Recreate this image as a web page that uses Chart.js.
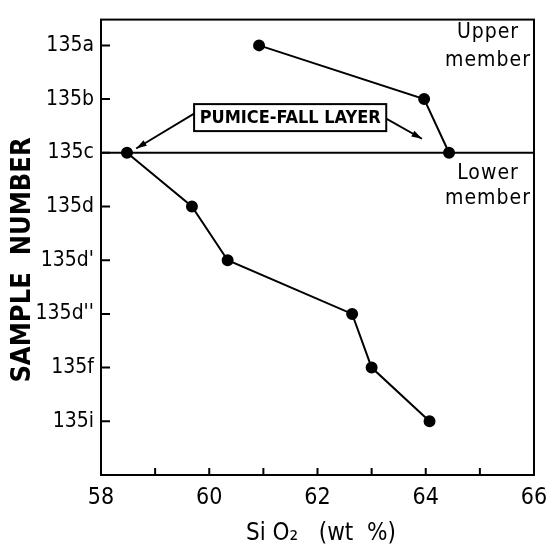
<!DOCTYPE html>
<html>
<head>
<meta charset="utf-8">
<script src="https://cdn.jsdelivr.net/npm/chart.js@4.4.1/dist/chart.umd.min.js"></script>
<style>
  html, body { margin: 0; padding: 0; background: #fff; }
</style>
</head>
<body>
<canvas id="chart" width="547" height="550"></canvas>
<script>
"use strict";

// sample order, top to bottom
const samples = ["135a", "135b", "135c", "135d", "135d'", "135d''", "135f", "135i"];

// upper member (above the pumice-fall layer)
const upperSamples = ["135a", "135b", "135c"];
const upperSiO2 = [60.92, 63.97, 64.43];

// lower member
const lowerSamples = ["135c", "135d", "135d'", "135d''", "135f", "135i"];
const lowerSiO2 = [58.48, 59.68, 60.34, 62.64, 63.0, 64.07];

const xTicks = [58, 60, 62, 64, 66];
const xMinorTicks = [59, 61, 63, 65];
const layerSample = "135c";

const FONT = "'DejaVu Sans Condensed', 'DejaVu Sans', sans-serif";

function toPoints(names, values) {
  return names.map(function (s, i) {
    return { x: values[i], y: samples.indexOf(s) };
  });
}

const layerY = samples.indexOf(layerSample);

function arrow(ctx, x1, y1, x2, y2) {
  ctx.beginPath();
  ctx.moveTo(x1, y1);
  ctx.lineTo(x2, y2);
  ctx.stroke();
  const a = Math.atan2(y2 - y1, x2 - x1);
  const len = 11, w = 0.3;
  ctx.beginPath();
  ctx.moveTo(x2, y2);
  ctx.lineTo(x2 - len * Math.cos(a - w), y2 - len * Math.sin(a - w));
  ctx.lineTo(x2 - len * Math.cos(a + w), y2 - len * Math.sin(a + w));
  ctx.closePath();
  ctx.fill();
}

const framePlugin = {
  id: "frame",
  afterDatasetsDraw: function (chart) {
    const ctx = chart.ctx;
    const a = chart.chartArea;
    const xs = chart.scales.x;
    const ys = chart.scales.y;
    ctx.save();
    ctx.strokeStyle = "#000";
    ctx.fillStyle = "#000";
    ctx.lineWidth = 2;
    ctx.strokeRect(a.left, a.top, a.right - a.left, a.bottom - a.top);

    // inward ticks
    ctx.beginPath();
    samples.forEach(function (s, i) {
      const y = ys.getPixelForValue(i);
      ctx.moveTo(a.left, y);
      ctx.lineTo(a.left + 9, y);
    });
    xTicks.concat(xMinorTicks).forEach(function (v) {
      const x = xs.getPixelForValue(v);
      ctx.moveTo(x, a.bottom);
      ctx.lineTo(x, a.bottom - 7);
    });
    ctx.stroke();

    // member labels
    ctx.font = "21px " + FONT;
    ctx.letterSpacing = "1px";
    ctx.textAlign = "center";
    ctx.textBaseline = "middle";
    const mx = xs.getPixelForValue(65.15);
    ctx.fillText("Upper", mx, ys.getPixelForValue(-0.24));
    ctx.fillText("member", mx, ys.getPixelForValue(0.28));
    ctx.fillText("Lower", mx, ys.getPixelForValue(2.39));
    ctx.fillText("member", mx, ys.getPixelForValue(2.86));
    ctx.letterSpacing = "0px";

    // pumice-fall layer box
    const bx1 = xs.getPixelForValue(59.72);
    const bx2 = xs.getPixelForValue(63.27);
    const by = ys.getPixelForValue(1.345);
    const bh = 27;
    ctx.fillStyle = "#fff";
    ctx.fillRect(bx1, by - bh / 2, bx2 - bx1, bh);
    ctx.fillStyle = "#000";
    ctx.strokeRect(bx1, by - bh / 2, bx2 - bx1, bh);
    ctx.font = "bold 18px " + FONT;
    ctx.fillText("PUMICE-FALL LAYER", (bx1 + bx2) / 2, by + 1);

    ctx.lineWidth = 1.8;
    arrow(ctx, bx1, by - 4, xs.getPixelForValue(58.65), ys.getPixelForValue(1.92));
    arrow(ctx, bx2, by + 1, xs.getPixelForValue(63.93), ys.getPixelForValue(1.74));
    ctx.restore();
  }
};

const ctx = document.getElementById("chart");

const chart = new Chart(ctx, {
  type: "scatter",
  data: {
    datasets: [
      {
        label: "layer",
        data: [{ x: xTicks[0], y: layerY }, { x: xTicks[xTicks.length - 1], y: layerY }],
        showLine: true,
        borderColor: "#000",
        borderWidth: 2,
        pointRadius: 0,
      },
      {
        label: "Upper member",
        data: toPoints(upperSamples, upperSiO2),
        showLine: true,
        borderColor: "#000",
        backgroundColor: "#000",
        borderWidth: 2,
        pointRadius: 5,
      },
      {
        label: "Lower member",
        data: toPoints(lowerSamples, lowerSiO2),
        showLine: true,
        borderColor: "#000",
        backgroundColor: "#000",
        borderWidth: 2,
        pointRadius: 5,
      },
    ],
  },
  options: {
    responsive: false,
    animation: false,
    layout: { padding: { top: 3, right: 0, left: 0, bottom: 0 } },
    plugins: {
      legend: { display: false },
      tooltip: { enabled: false },
    },
    scales: {
      x: {
        type: "linear",
        min: 58,
        max: 66,
        afterBuildTicks: function (scale) {
          scale.ticks = xTicks.map(function (v) { return { value: v }; });
        },
        afterFit: function (scale) {
          scale.height = 75;
          scale.paddingLeft = 0;
          scale.paddingRight = 13;
        },
        grid: { display: false, drawTicks: false },
        border: { display: false },
        ticks: {
          color: "#000",
          padding: 9,
          maxRotation: 0,
          font: { family: FONT, size: 23 },
        },
        title: {
          display: true,
          text: " Si O\u2082   (wt  %)",
          color: "#000",
          padding: { top: 0, bottom: 2 },
          font: { family: FONT, size: 24 },
        },
      },
      y: {
        type: "linear",
        reverse: true,
        min: -0.48,
        max: 8,
        afterBuildTicks: function (scale) {
          scale.ticks = samples.map(function (s, i) { return { value: i }; });
        },
        afterFit: function (scale) { scale.width = 101; },
        grid: { display: false, drawTicks: false },
        border: { display: false },
        ticks: {
          color: "#000",
          padding: 7,
          callback: function (v) { return samples[v]; },
          font: { family: FONT, size: 21 },
        },
        title: {
          display: true,
          text: "SAMPLE  NUMBER   ",
          color: "#000",
          padding: { top: 7, bottom: 0 },
          font: { family: FONT, size: 27, weight: "bold" },
        },
      },
    },
  },
  plugins: [framePlugin],
});
</script>
</body>
</html>
